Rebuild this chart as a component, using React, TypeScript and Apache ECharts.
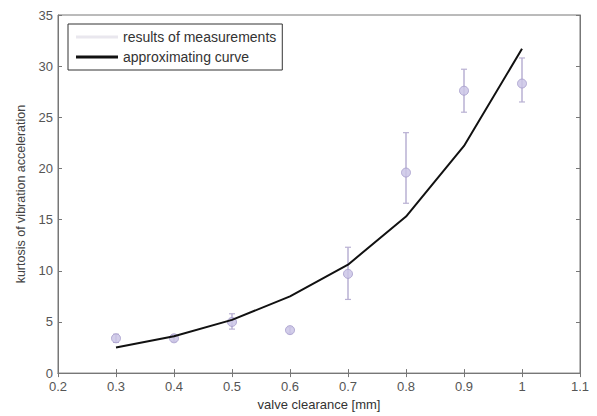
import React, { useEffect, useRef } from "react";
import * as echarts from "echarts";

const clearance = [0.3, 0.4, 0.5, 0.6, 0.7, 0.8, 0.9, 1.0];
const measured = [3.4, 3.4, 5.0, 4.2, 9.7, 19.6, 27.6, 28.3];
const errLow = [3.0, 3.1, 4.3, 3.9, 7.2, 16.6, 25.5, 26.5];
const errHigh = [3.8, 3.7, 5.8, 4.5, 12.3, 23.5, 29.7, 30.8];
const curve = [2.5, 3.6, 5.2, 7.5, 10.6, 15.3, 22.2, 31.7];

const fmt = (v: number) => String(Math.round(v * 10) / 10);

export default function App() {
  const ref = useRef<HTMLDivElement>(null);
  useEffect(() => {
    if (!ref.current) return;
    const chart = echarts.init(ref.current, null, { renderer: "svg" });
    const textStyle = { color: "#555", fontFamily: "Liberation Sans, Arial, sans-serif", fontSize: 13 };
    const axisLine = { show: true, lineStyle: { color: "#777", width: 1 } };
    const axisTick = { show: true, inside: true, length: 4, lineStyle: { color: "#777" } };
    chart.setOption({
      animation: false,
      backgroundColor: "#fff",
      grid: { left: 58, right: 17, top: 15, bottom: 38, show: true, borderColor: "#777", borderWidth: 1 },
      legend: {
        left: 68,
        top: 24,
        orient: "vertical",
        itemWidth: 42,
        itemHeight: 3,
        itemGap: 6,
        padding: [6, 6, 6, 8],
        borderColor: "#333",
        borderWidth: 1,
        backgroundColor: "#fff",
        textStyle: { ...textStyle, color: "#333", fontSize: 14 },
        data: [
          { name: "results of measurements", icon: "rect", itemStyle: { color: "#e9e7ee" } },
          { name: "approximating curve", icon: "rect", itemStyle: { color: "#111" } },
        ],
      },
      xAxis: [
        {
          type: "value",
          min: 0.2,
          max: 1.1,
          interval: 0.1,
          name: "valve clearance [mm]",
          nameLocation: "middle",
          nameGap: 23,
          nameTextStyle: { ...textStyle, color: "#333" },
          axisLabel: { ...textStyle, margin: 7, formatter: fmt },
          axisLine,
          axisTick,
          splitLine: { show: false },
        },
        {
          type: "value",
          position: "top",
          min: 0.2,
          max: 1.1,
          interval: 0.1,
          axisLabel: { show: false },
          axisLine,
          axisTick,
          splitLine: { show: false },
        },
      ],
      yAxis: [
        {
          type: "value",
          min: 0,
          max: 35,
          interval: 5,
          name: "kurtosis of vibration acceleration",
          nameLocation: "middle",
          nameGap: 30,
          nameTextStyle: { ...textStyle, color: "#444", fontSize: 12.5 },
          axisLabel: { ...textStyle, margin: 5 },
          axisLine,
          axisTick,
          splitLine: { show: false },
        },
        {
          type: "value",
          position: "right",
          min: 0,
          max: 35,
          interval: 5,
          axisLabel: { show: false },
          axisLine,
          axisTick,
          splitLine: { show: false },
        },
      ],
      series: [
        {
          name: "results of measurements",
          type: "custom",
          xAxisIndex: 0,
          yAxisIndex: 0,
          data: clearance.map((x, i) => [x, errLow[i], errHigh[i]]),
          renderItem: (params: any, api: any) => {
            const x = api.value(0);
            const lo = api.coord([x, api.value(1)]);
            const hi = api.coord([x, api.value(2)]);
            const c = "#b9b1d3";
            return {
              type: "group",
              children: [
                { type: "line", shape: { x1: lo[0], y1: lo[1], x2: hi[0], y2: hi[1] }, style: { stroke: c, lineWidth: 1.5 } },
                { type: "line", shape: { x1: lo[0] - 3, y1: lo[1], x2: lo[0] + 3, y2: lo[1] }, style: { stroke: c, lineWidth: 1.2 } },
                { type: "line", shape: { x1: hi[0] - 3, y1: hi[1], x2: hi[0] + 3, y2: hi[1] }, style: { stroke: c, lineWidth: 1.2 } },
              ],
            };
          },
          z: 2,
        },
        {
          name: "results of measurements",
          type: "scatter",
          data: clearance.map((x, i) => [x, measured[i]]),
          symbol: "circle",
          symbolSize: 9,
          itemStyle: { color: "#cbc5e6", borderColor: "#a89fcc", borderWidth: 1, opacity: 0.85 },
          z: 3,
        },
        {
          name: "approximating curve",
          type: "line",
          data: clearance.map((x, i) => [x, curve[i]]),
          showSymbol: false,
          symbol: "none",
          lineStyle: { color: "#111", width: 2 },
          z: 4,
        },
      ],
    });
    return () => chart.dispose();
  }, []);
  return <div ref={ref} style={{ width: 597, height: 416, position: "absolute", left: 0, top: 0 }} />;
}
